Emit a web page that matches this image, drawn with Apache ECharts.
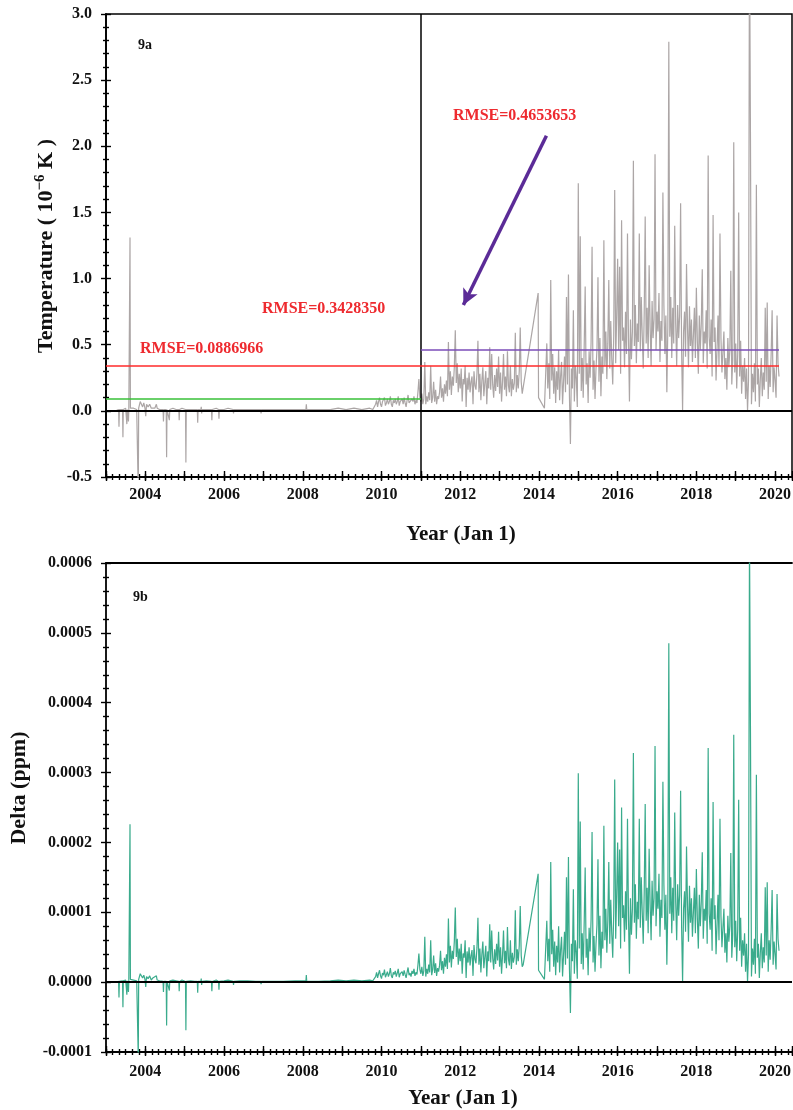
<!DOCTYPE html>
<html>
<head>
<meta charset="utf-8">
<title>9a / 9b</title>
<script src="https://cdn.jsdelivr.net/npm/echarts@6/dist/echarts.min.js"></script>
<style>
  html, body { margin: 0; padding: 0; background: #ffffff; }
  #chart { width: 793px; height: 1110px; }
</style>
</head>
<body>
<div id="chart"></div>
<script>
// ---------------------------------------------------------------------------
// Record 2003-2009: sparse samples (year, delta in ppm, temperature in 1e-6 K)
// ---------------------------------------------------------------------------
const quietYears = [
  2003.25,2003.32,2003.33,2003.34,2003.42,2003.43,2003.44,2003.50,2003.53,2003.54,
  2003.56,2003.57,2003.58,2003.60,2003.61,2003.62,2003.66,2003.70,2003.74,2003.78,
  2003.81,2003.82,2003.83,2003.87,2003.90,2003.93,2003.96,2003.99,2004.01,2004.03,
  2004.07,2004.11,2004.15,2004.19,2004.24,2004.28,2004.30,2004.36,2004.45,2004.46,
  2004.47,2004.53,2004.54,2004.55,2004.60,2004.61,2004.62,2004.70,2004.78,2004.85,
  2004.86,2004.87,2004.93,2005.02,2005.03,2005.04,2005.15,2005.25,2005.32,2005.33,
  2005.34,2005.41,2005.42,2005.43,2005.44,2005.55,2005.68,2005.69,2005.70,2005.80,
  2005.86,2005.87,2005.88,2006.00,2006.10,2006.23,2006.24,2006.25,2006.40,2006.60,
  2006.80,2006.93,2006.94,2006.95,2007.20,2007.50,2007.80,2008.08,2008.09,2008.10,
  2008.40,2008.70,2008.90,2009.10,2009.30,2009.50,2009.70,2009.78
];
const quietDelta = [
  0,1e-6,-22e-6,1e-6,2e-6,-36e-6,2e-6,3e-6,-18e-6,2e-6,
  3e-6,-14e-6,2e-6,3e-6,226e-6,4e-6,6e-6,3e-6,5e-6,2e-6,
  3e-6,-108e-6,4e-6,12e-6,14e-6,6e-6,10e-6,4e-6,-7e-6,8e-6,
  5e-6,9e-6,3e-6,6e-6,4e-6,9e-6,3e-6,2e-6,1e-6,-14e-6,
  1e-6,1e-6,-62e-6,1e-6,2e-6,-12e-6,2e-6,3e-6,2e-6,1e-6,
  -13e-6,1e-6,3e-6,1e-6,-69e-6,1e-6,2e-6,1e-6,1e-6,-15e-6,
  1e-6,1e-6,5e-6,-4e-6,1e-6,2e-6,1e-6,-13e-6,1e-6,3e-6,
  1e-6,-11e-6,1e-6,2e-6,3e-6,1e-6,-4e-6,1e-6,2e-6,2e-6,
  1e-6,1e-6,-3e-6,1e-6,1e-6,1e-6,2e-6,2e-6,10e-6,1e-6,
  1e-6,2e-6,3e-6,2e-6,3e-6,2e-6,3e-6,2e-6
];
const quietTemp = [
  0,0.01,-0.12,0.01,0.01,-0.20,0.01,0.02,-0.10,0.01,
  0.02,-0.08,0.01,0.02,1.31,0.02,0.03,0.02,0.03,0.01,
  0.02,-0.62,0.02,0.07,0.08,0.03,0.06,0.02,-0.04,0.05,
  0.03,0.05,0.02,0.03,0.02,0.05,0.02,0.01,0.01,-0.08,
  0.01,0.01,-0.35,0.01,0.01,-0.07,0.01,0.02,0.01,0.01,
  -0.07,0.01,0.02,0.01,-0.39,0.01,0.01,0.01,0.01,-0.09,
  0.01,0.01,0.03,-0.02,0.01,0.01,0.01,-0.07,0.01,0.02,
  0.01,-0.06,0.01,0.01,0.02,0.01,-0.02,0.01,0.01,0.01,
  0.01,0.01,-0.02,0.01,0.01,0.01,0.01,0.01,0.05,0.01,
  0.01,0.01,0.02,0.01,0.02,0.01,0.02,0.01
];

// ---------------------------------------------------------------------------
// Regular samples every 0.025 yr, 2009.80 - 2013.60
// ---------------------------------------------------------------------------
const sampleStep = 0.025;
const seg1Start = 2009.80;
const seg1Delta = [
  2e-6,3e-6,
  8e-6,14e-6,6e-6,12e-6,17e-6,9e-6,5e-6,13e-6,10e-6,18e-6,
  7e-6,11e-6,15e-6,8e-6,12e-6,20e-6,9e-6,6e-6,14e-6,11e-6,
  16e-6,8e-6,13e-6,19e-6,7e-6,12e-6,10e-6,15e-6,9e-6,17e-6,
  11e-6,6e-6,14e-6,21e-6,10e-6,13e-6,8e-6,16e-6,12e-6,19e-6,
  9e-6,14e-6,11e-6,
  24e-6,41e-6,18e-6,
  12e-6,22e-6,9e-6,16e-6,
  65e-6,
  8e-6,19e-6,12e-6,25e-6,14e-6,
  60e-6,10e-6,18e-6,38e-6,
  13e-6,27e-6,9e-6,20e-6,15e-6,24e-6,
  45e-6,
  17e-6,30e-6,12e-6,35e-6,22e-6,40e-6,19e-6,
  91e-6,
  28e-6,52e-6,21e-6,45e-6,33e-6,58e-6,
  107e-6,
  36e-6,62e-6,25e-6,48e-6,
  30e-6,55e-6,12e-6,41e-6,35e-6,60e-6,6e-6,44e-6,28e-6,50e-6,24e-6,38e-6,46e-6,9e-6,53e-6,33e-6,27e-6,49e-6,
  92e-6,
  25e-6,48e-6,14e-6,40e-6,58e-6,20e-6,36e-6,52e-6,8e-6,44e-6,30e-6,
  83e-6,28e-6,74e-6,
  35e-6,18e-6,47e-6,26e-6,55e-6,31e-6,
  72e-6,
  22e-6,50e-6,12e-6,38e-6,
  74e-6,
  27e-6,45e-6,20e-6,
  79e-6,
  33e-6,24e-6,
  60e-6,
  19e-6,42e-6,28e-6,36e-6,
  103e-6,
  25e-6,47e-6,30e-6,52e-6,
  109e-6,
  38e-6,22e-6,25e-6
];
const seg1Temp = [
  0.01,0.02,
  0.05,0.08,0.03,0.07,0.10,0.05,0.03,0.07,0.06,0.10,
  0.04,0.06,0.09,0.05,0.07,0.11,0.05,0.03,0.08,0.06,
  0.09,0.05,0.07,0.11,0.04,0.07,0.06,0.09,0.05,0.10,
  0.06,0.03,0.08,0.12,0.06,0.07,0.05,0.09,0.07,0.11,
  0.05,0.08,0.06,
  0.14,0.24,0.10,
  0.07,0.13,0.05,0.09,
  0.37,
  0.05,0.11,0.07,0.14,0.08,
  0.34,0.06,0.10,0.22,
  0.07,0.16,0.05,0.11,0.09,0.14,
  0.26,
  0.10,0.17,0.07,0.20,0.13,0.23,0.11,
  0.52,
  0.16,0.30,0.12,0.26,0.19,0.33,
  0.61,
  0.21,0.36,0.14,0.28,
  0.17,0.32,0.07,0.24,0.20,0.34,0.03,0.25,0.16,0.29,0.14,0.22,0.26,0.05,0.30,0.19,0.16,0.28,
  0.53,
  0.14,0.28,0.08,0.23,0.33,0.11,0.21,0.30,0.05,0.25,0.17,
  0.48,0.16,0.43,
  0.20,0.10,0.27,0.15,0.32,0.18,
  0.41,
  0.13,0.29,0.07,0.22,
  0.43,
  0.16,0.26,0.11,
  0.45,
  0.19,0.14,
  0.34,
  0.11,0.24,0.16,0.21,
  0.59,
  0.14,0.27,0.17,0.30,
  0.63,
  0.22,0.13,0.14
];

// Data gap late 2013: a single reading before the record resumes
const gapYears = [2013.98, 2013.99, 2014.14];
const gapDelta = [155e-6, 17e-6, 4e-6];
const gapTemp = [0.89, 0.10, 0.02];

// ---------------------------------------------------------------------------
// Regular samples every 0.025 yr, 2014.20 - 2020.10
// ---------------------------------------------------------------------------
const seg2Start = 2014.20;
const seg2Delta = [
  88e-6,30e-6,62e-6,15e-6,172e-6,40e-6,75e-6,22e-6,58e-6,10e-6,
  52e-6,28e-6,80e-6,14e-6,46e-6,65e-6,8e-6,38e-6,72e-6,25e-6,
  150e-6,34e-6,179e-6,20e-6,-44e-6,55e-6,30e-6,133e-6,12e-6,60e-6,
  42e-6,5e-6,299e-6,48e-6,230e-6,26e-6,70e-6,18e-6,85e-6,164e-6,
  35e-6,62e-6,10e-6,78e-6,44e-6,90e-6,215e-6,28e-6,66e-6,15e-6,
  55e-6,82e-6,176e-6,38e-6,95e-6,20e-6,72e-6,48e-6,224e-6,60e-6,
  105e-6,42e-6,88e-6,172e-6,55e-6,118e-6,70e-6,35e-6,98e-6,290e-6,
  62e-6,125e-6,200e-6,80e-6,190e-6,48e-6,250e-6,92e-6,110e-6,58e-6,
  130e-6,75e-6,234e-6,95e-6,12e-6,120e-6,68e-6,105e-6,328e-6,85e-6,
  140e-6,62e-6,115e-6,90e-6,234e-6,78e-6,150e-6,100e-6,55e-6,128e-6,
  255e-6,88e-6,135e-6,70e-6,191e-6,112e-6,60e-6,145e-6,95e-6,120e-6,
  338e-6,80e-6,130e-6,105e-6,155e-6,65e-6,118e-6,92e-6,287e-6,140e-6,
  75e-6,125e-6,25e-6,110e-6,485e-6,98e-6,150e-6,70e-6,135e-6,88e-6,
  243e-6,115e-6,60e-6,140e-6,95e-6,125e-6,274e-6,80e-6,0,105e-6,
  130e-6,72e-6,194e-6,110e-6,58e-6,138e-6,85e-6,120e-6,65e-6,100e-6,
  135e-6,70e-6,162e-6,92e-6,48e-6,125e-6,80e-6,115e-6,186e-6,62e-6,
  105e-6,88e-6,132e-6,55e-6,335e-6,98e-6,75e-6,120e-6,45e-6,258e-6,
  90e-6,110e-6,40e-6,82e-6,125e-6,60e-6,234e-6,95e-6,50e-6,78e-6,
  105e-6,42e-6,70e-6,28e-6,95e-6,58e-6,80e-6,185e-6,35e-6,68e-6,
  354e-6,50e-6,88e-6,30e-6,75e-6,261e-6,45e-6,92e-6,22e-6,60e-6,
  38e-6,70e-6,15e-6,55e-6,0,40e-6,640e-6,357e-6,8e-6,48e-6,
  25e-6,62e-6,12e-6,297e-6,35e-6,55e-6,6e-6,42e-6,70e-6,20e-6,
  50e-6,28e-6,136e-6,38e-6,143e-6,15e-6,60e-6,32e-6,75e-6,132e-6,
  25e-6,58e-6,40e-6,18e-6,126e-6,62e-6,45e-6
];
const seg2Temp = [
  0.51,0.17,0.36,0.09,0.99,0.23,0.43,0.13,0.33,0.06,
  0.30,0.16,0.46,0.08,0.26,0.37,0.05,0.22,0.41,0.14,
  0.86,0.20,1.03,0.11,-0.25,0.32,0.17,0.76,0.07,0.34,
  0.24,0.03,1.72,0.28,1.32,0.15,0.40,0.10,0.49,0.94,
  0.20,0.36,0.06,0.45,0.25,0.52,1.24,0.16,0.38,0.09,
  0.32,0.47,1.01,0.22,0.55,0.11,0.41,0.28,1.29,0.34,
  0.60,0.24,0.51,0.99,0.32,0.68,0.40,0.20,0.56,1.67,
  0.36,0.72,1.15,0.46,1.09,0.28,1.44,0.53,0.63,0.33,
  0.75,0.43,1.34,0.55,0.07,0.69,0.39,0.60,1.89,0.49,
  0.80,0.36,0.66,0.52,1.34,0.45,0.86,0.57,0.32,0.74,
  1.47,0.51,0.78,0.40,1.10,0.64,0.34,0.83,0.55,0.69,
  1.94,0.46,0.75,0.60,0.89,0.37,0.68,0.53,1.65,0.80,
  0.43,0.72,0.14,0.63,2.79,0.56,0.86,0.40,0.78,0.51,
  1.40,0.66,0.34,0.80,0.55,0.72,1.57,0.46,0.00,0.60,
  0.75,0.41,1.11,0.63,0.33,0.79,0.49,0.69,0.37,0.57,
  0.78,0.40,0.93,0.53,0.28,0.72,0.46,0.66,1.07,0.36,
  0.60,0.51,0.76,0.32,1.93,0.56,0.43,0.69,0.26,1.48,
  0.52,0.63,0.23,0.47,0.72,0.34,1.34,0.55,0.29,0.45,
  0.60,0.24,0.40,0.16,0.55,0.33,0.46,1.06,0.20,0.39,
  2.03,0.29,0.51,0.17,0.43,1.50,0.26,0.53,0.13,0.34,
  0.22,0.40,0.09,0.32,0.00,0.23,3.68,2.05,0.05,0.28,
  0.14,0.36,0.07,1.71,0.20,0.32,0.03,0.24,0.40,0.11,
  0.29,0.16,0.78,0.22,0.82,0.09,0.34,0.18,0.43,0.76,
  0.14,0.33,0.23,0.10,0.72,0.36,0.26
];

// RMSE of the two sub-periods and of the whole record (1e-6 K)
const rmseEarly = 0.0886966;
const rmseAll = 0.3428350;
const rmseLate = 0.4653653;
const splitYear = 2011;

// Axis ranges
const X_MIN = 2003, X_MAX = 2020.43;
const TEMP_MIN = -0.5, TEMP_MAX = 3.0, TEMP_STEP = 0.5;
const DELTA_MIN = -0.0001, DELTA_MAX = 0.0006, DELTA_STEP = 0.0001;

// Arrow annotation pointing at the late-period RMSE level (data coordinates)
const arrowFrom = [2014.19, 2.08];
const arrowTo = [2012.08, 0.80];

// ---------------------------------------------------------------------------
function pairs(years, vals) { return years.map((y, i) => [y, vals[i]]); }
function regular(start, vals) {
  return vals.map((v, i) => [+(start + i * sampleStep).toFixed(3), v]);
}
const lastYear = +(seg2Start + (seg2Temp.length - 1) * sampleStep).toFixed(3);

const tempData = [].concat(
  pairs(quietYears, quietTemp), regular(seg1Start, seg1Temp),
  pairs(gapYears, gapTemp), regular(seg2Start, seg2Temp));
const deltaData = [].concat(
  pairs(quietYears, quietDelta), regular(seg1Start, seg1Delta),
  pairs(gapYears, gapDelta), regular(seg2Start, seg2Delta));

const FONT = '"Liberation Serif", "Times New Roman", serif';
const BLACK = '#000000';
const tickStyle = { color: BLACK, width: 1.4 };

function xAxes(grid, labelMargin, topLine) {
  const base = {
    gridIndex: grid, type: 'value', min: X_MIN, max: X_MAX, position: 'bottom',
    splitLine: { show: false }, axisLabel: { show: false },
    axisLine: { show: false, onZero: false }
  };
  const list = [
    Object.assign({}, base, {
      interval: 1,
      axisLine: { show: true, onZero: false, lineStyle: { color: BLACK, width: 1.8 } },
      axisTick: { show: true, length: 4, lineStyle: tickStyle },
      axisLabel: {
        show: true, margin: labelMargin, color: '#111', fontFamily: FONT,
        fontWeight: 'bold', fontSize: 16,
        formatter: v => {
          const r = Math.round(v);
          return (Math.abs(v - r) < 1e-6 && r % 2 === 0) ? String(r) : '';
        }
      }
    }),
    Object.assign({}, base, { interval: 1, axisTick: { show: true, inside: true, length: 6, lineStyle: tickStyle } }),
    Object.assign({}, base, { interval: 1 / 6, axisTick: { show: true, length: 3, lineStyle: tickStyle } }),
    Object.assign({}, base, { interval: 1 / 6, axisTick: { show: true, inside: true, length: 3, lineStyle: tickStyle } })
  ];
  if (topLine) {
    list.push(Object.assign({}, base, {
      position: 'top',
      axisLine: { show: true, onZero: false, lineStyle: { color: BLACK, width: 1.8 } },
      axisTick: { show: false }
    }));
  }
  return list;
}

function yAxes(grid, min, max, interval, digits) {
  const base = {
    gridIndex: grid, type: 'value', min: min, max: max, interval: interval,
    position: 'left', splitLine: { show: false }, axisLabel: { show: false },
    axisLine: { show: false, onZero: false }
  };
  return [
    Object.assign({}, base, {
      axisLine: { show: true, onZero: false, lineStyle: { color: BLACK, width: 1.8 } },
      axisTick: { show: true, length: 5, lineStyle: tickStyle },
      minorTick: { show: true, splitNumber: 5, length: 3, lineStyle: tickStyle },
      axisLabel: {
        show: true, margin: 14, color: '#111', fontFamily: FONT,
        fontWeight: 'bold', fontSize: 16,
        formatter: v => v.toFixed(digits)
      }
    }),
    Object.assign({}, base, {
      axisTick: { show: true, inside: true, length: 5, lineStyle: tickStyle },
      minorTick: { show: true, splitNumber: 5, length: 3, lineStyle: tickStyle }
    })
  ];
}

function label(text, x, y, size, color, align, extra) {
  return Object.assign({
    type: 'text', x: x, y: y, z: 100,
    style: {
      text: text, fill: color, fontFamily: FONT, fontWeight: 'bold', fontSize: size,
      align: align, verticalAlign: 'middle', textAlign: align, textVerticalAlign: 'middle'
    }
  }, extra || {});
}

const RED_TEXT = '#ee2a2f';

const option = {
  animation: false,
  backgroundColor: '#ffffff',
  grid: [
    { left: 106, top: 14, width: 686, height: 463, show: true, borderColor: BLACK,
      borderWidth: 1.5, backgroundColor: 'transparent', containLabel: false, outerBoundsMode: 'none' },
    { left: 106, top: 563, width: 686, height: 489, show: false, containLabel: false, outerBoundsMode: 'none' }
  ],
  xAxis: xAxes(0, 10, false).concat(xAxes(1, 12, true)),
  yAxis: yAxes(0, TEMP_MIN, TEMP_MAX, TEMP_STEP, 1).concat(yAxes(1, DELTA_MIN, DELTA_MAX, DELTA_STEP, 4)),
  series: [
    {
      name: 'Temperature', type: 'line', xAxisIndex: 0, yAxisIndex: 0,
      data: tempData, symbol: 'none', clip: true, z: 2,
      lineStyle: { color: '#aca6a6', width: 1.2 },
      markLine: {
        silent: true, symbol: ['none', 'none'], label: { show: false }, animation: false,
        data: [
          { yAxis: 0, lineStyle: { color: BLACK, width: 2, type: 'solid' } },
          { xAxis: splitYear, lineStyle: { color: BLACK, width: 1.5, type: 'solid' } },
          [ { coord: [X_MIN, rmseEarly], lineStyle: { color: '#38c038', width: 1.6, type: 'solid' } },
            { coord: [splitYear, rmseEarly] } ],
          [ { coord: [X_MIN, rmseAll], lineStyle: { color: '#ff2a2a', width: 1.6, type: 'solid' } },
            { coord: [lastYear, rmseAll] } ],
          [ { coord: [splitYear, rmseLate], lineStyle: { color: '#7b4cb8', width: 1.6, type: 'solid' } },
            { coord: [lastYear, rmseLate] } ],
          [ { coord: arrowFrom, symbol: 'none', lineStyle: { color: '#5b2b97', width: 3.5, type: 'solid' } },
            { coord: arrowTo, symbol: 'arrow', symbolSize: [12, 16] } ]
        ]
      }
    },
    {
      name: 'Delta', type: 'line', xAxisIndex: 4, yAxisIndex: 2,
      data: deltaData, symbol: 'none', clip: true, z: 2,
      lineStyle: { color: '#3aab8c', width: 1.2 },
      markLine: {
        silent: true, symbol: ['none', 'none'], label: { show: false }, animation: false,
        data: [ { yAxis: 0, lineStyle: { color: BLACK, width: 2, type: 'solid' } } ]
      }
    }
  ],
  graphic: [
    label('9a', 138, 45, 14, '#111', 'left'),
    label('9b', 133, 597, 14, '#111', 'left'),
    label('RMSE=' + rmseLate.toFixed(7), 453, 116, 16, RED_TEXT, 'left'),
    label('RMSE=' + rmseAll.toFixed(7), 262, 309, 16, RED_TEXT, 'left'),
    label('RMSE=' + rmseEarly.toFixed(7), 140, 349, 16, RED_TEXT, 'left'),
    label('Year (Jan 1)', 461, 535, 21, '#111', 'center'),
    label('Year (Jan 1)', 463, 1099, 21, '#111', 'center'),
    label('Delta (ppm)', 19, 788, 22, '#111', 'center', { rotation: Math.PI / 2 }),
    {
      type: 'text', x: 46, y: 246, z: 100, rotation: Math.PI / 2,
      style: {
        text: '{a|Temperature ( 10}{s|−6}{a| K )}',
        align: 'center', verticalAlign: 'middle', textAlign: 'center', textVerticalAlign: 'middle',
        rich: {
          a: { fontFamily: FONT, fontWeight: 'bold', fontSize: 22, lineHeight: 26, fill: '#111', color: '#111' },
          s: { fontFamily: FONT, fontWeight: 'bold', fontSize: 15, lineHeight: 15, verticalAlign: 'top', fill: '#111', color: '#111' }
        }
      }
    }
  ]
};

const chart = echarts.init(document.getElementById('chart'), null, { renderer: 'canvas' });
chart.setOption(option);
</script>
</body>
</html>
